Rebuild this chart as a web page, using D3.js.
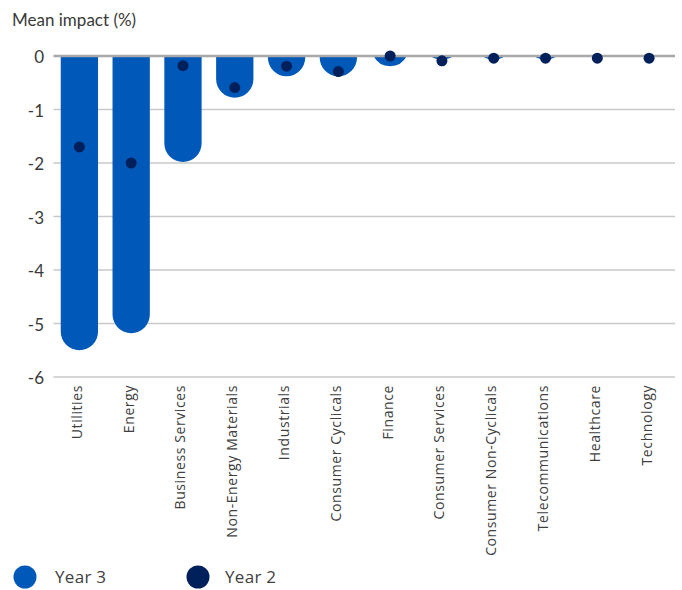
<!DOCTYPE html>
<html>
<head>
<meta charset="utf-8">
<script src="https://cdn.jsdelivr.net/npm/d3@7"></script>
<style>
  body { margin: 0; background: #fff; }
  text { font-family: Lato, "Open Sans", sans-serif; fill: #3a3a3a; }
  .xl, .lg { font-family: "Open Sans", Lato, sans-serif; fill: #404040; }
</style>
</head>
<body>
<svg id="chart" width="682" height="590"></svg>
<script>
const categories = ["Utilities", "Energy", "Business Services", "Non-Energy Materials", "Industrials",
  "Consumer Cyclicals", "Finance", "Consumer Services", "Consumer Non-Cyclicals",
  "Telecommunications", "Healthcare", "Technology"];
const year3 = [-5.5, -5.18, -1.98, -0.78, -0.38, -0.38, -0.19, -0.07, -0.07, -0.07, 0, 0];
const year2 = [-1.7, -2.0, -0.18, -0.59, -0.19, -0.29, 0.0, -0.09, -0.04, -0.04, -0.04, -0.04];
const yTicks = [0, -1, -2, -3, -4, -5, -6];
const yLabel = "Mean impact (%)";
const seriesNames = ["Year 3", "Year 2"];
const colors = { y3: "#0058b9", y2: "#00205b" };

const svg = d3.select("#chart");
const pLeft = 53.5, pRight = 675, pTop = 56, pBottom = 377;

const x = d3.scaleBand().domain(categories).range([pLeft, pRight]).paddingInner(0.28).paddingOuter(0.14);
const y = d3.scaleLinear().domain([0, -6]).range([pTop, pBottom]);

// y label
svg.append("text").attr("x", 12).attr("y", 26).attr("font-size", 17).text(yLabel);

// gridlines (non-zero)
svg.append("g").selectAll("line").data(yTicks.filter(t => t !== 0)).join("line")
  .attr("x1", pLeft).attr("x2", pRight)
  .attr("y1", d => y(d)).attr("y2", d => y(d))
  .attr("stroke", "#c9c9c9").attr("stroke-width", 1.3);

// y tick labels
svg.append("g").selectAll("text").data(yTicks).join("text")
  .attr("x", 44).attr("y", d => y(d) + 3)
  .attr("text-anchor", "end").attr("dominant-baseline", "middle")
  .attr("font-size", 17)
  .text(d => d === 0 ? "0" : "-" + Math.abs(d));

// bars with rounded bottoms
const bw = x.bandwidth(), r = bw / 2, y0 = y(0);
function barPath(v, cat) {
  const x0 = x(cat), cx = x0 + r, yv = y(v), h = yv - y0;
  if (h <= 0) return "";
  if (h >= r) {
    return `M${x0},${y0}L${x0 + bw},${y0}L${x0 + bw},${yv - r}A${r},${r} 0 0 1 ${x0},${yv - r}Z`;
  }
  const dx = Math.sqrt(r * r - (r - h) * (r - h));
  return `M${cx - dx},${y0}L${cx + dx},${y0}A${r},${r} 0 0 1 ${cx - dx},${y0}Z`;
}
svg.append("g").selectAll("path").data(categories).join("path")
  .attr("d", (c, i) => barPath(year3[i], c))
  .attr("fill", colors.y3);

// zero line
svg.append("line").attr("x1", pLeft).attr("x2", pRight).attr("y1", y0).attr("y2", y0)
  .attr("stroke", "#a9a9a9").attr("stroke-width", 2.5);

// dots
svg.append("g").selectAll("circle").data(categories).join("circle")
  .attr("cx", c => x(c) + r).attr("cy", (c, i) => y(year2[i])).attr("r", 5.5)
  .attr("fill", colors.y2);

// x labels
svg.append("g").selectAll("text").data(categories).join("text")
  .attr("class", "xl")
  .attr("transform", c => `translate(${x(c) + r + 2.5},385) rotate(-90)`)
  .attr("text-anchor", "end").attr("font-size", 14).attr("letter-spacing", 0.6)
  .text(c => c);

// legend
const legend = [{ name: seriesNames[0], color: colors.y3, cx: 25, tx: 55 },
                { name: seriesNames[1], color: colors.y2, cx: 198, tx: 225 }];
const lg = svg.append("g");
lg.selectAll("circle").data(legend).join("circle")
  .attr("cx", d => d.cx).attr("cy", 577).attr("r", 11.5).attr("fill", d => d.color);
lg.selectAll("text").data(legend).join("text")
  .attr("class", "lg")
  .attr("x", d => d.tx).attr("y", 578).attr("dominant-baseline", "middle")
  .attr("font-size", 17).attr("letter-spacing", 0.3).text(d => d.name);
</script>
</body>
</html>
